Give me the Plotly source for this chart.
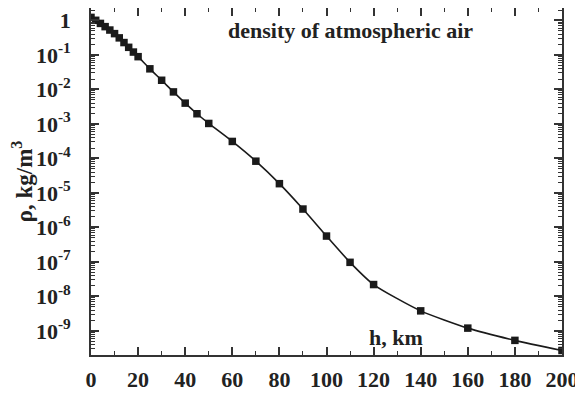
import plotly.graph_objects as go

h_km = [0, 2, 4, 6, 8, 10, 12, 14, 16, 18, 20, 25, 30, 35, 40, 45, 50, 60, 70, 80,
        90, 100, 110, 120, 140, 160, 180, 200]
rho = [1.225, 1.007, 0.819, 0.660, 0.526, 0.414, 0.312, 0.228, 0.166, 0.121, 0.0889,
       0.0395, 0.0184, 0.00846, 0.00400, 0.00197, 0.00103, 3.1e-4, 8.3e-5, 1.85e-5,
       3.4e-6, 5.6e-7, 9.7e-8, 2.2e-8, 3.8e-9, 1.2e-9, 5.3e-10, 2.7e-10]

x_ticks = [0, 20, 40, 60, 80, 100, 120, 140, 160, 180, 200]
x_minor = [10, 30, 50, 70, 90, 110, 130, 150, 170, 190]
y_tickvals = [1, 1e-1, 1e-2, 1e-3, 1e-4, 1e-5, 1e-6, 1e-7, 1e-8, 1e-9]
y_ticktext = ["1"] + ["10<sup>-%d</sup>" % k for k in range(1, 10)]
y_minor = [m * 10.0 ** e for e in range(-10, 1) for m in range(2, 10)]

FONT = "Liberation Serif"
AX = "#333333"
TK = "#333333"
TXT = "#222222"
y_range = [-9.70, 0.36]

fig = go.Figure()
fig.add_trace(go.Scatter(
    x=h_km, y=rho, mode="lines+markers",
    line=dict(color="#1a1a1a", width=1.6, shape="spline", smoothing=0.6),
    marker=dict(symbol="square", size=7.5, color="#1a1a1a"),
    showlegend=False,
))

# page body has an 8px default margin, so the figure is sized to fit the window
fig.update_layout(
    width=575, height=386,
    margin=dict(l=83, r=21, t=0, b=39, autoexpand=False),
    paper_bgcolor="white", plot_bgcolor="white",
    font=dict(family=FONT, color=TXT),
    xaxis=dict(
        range=[0, 200], tickmode="array", tickvals=x_ticks, ticks="inside", ticklen=8,
        tickwidth=1.6, tickcolor=TK, showline=True, linecolor=AX, linewidth=1.6,
        mirror="ticks", showgrid=False, zeroline=False, automargin=False,
        ticklabelstandoff=4,
        tickfont=dict(family=FONT, size=22, weight="bold", color=TXT),
        minor=dict(tickmode="array", tickvals=x_minor,
                   ticks="inside", ticklen=4, tickwidth=1.3, tickcolor=TK, showgrid=False),
    ),
    yaxis=dict(
        type="log", range=y_range, tickmode="array", tickvals=y_tickvals, ticktext=y_ticktext,
        ticks="inside", ticklen=8, tickwidth=1.6, tickcolor=TK,
        showline=True, linecolor=AX, linewidth=1.6, mirror="ticks",
        showgrid=False, zeroline=False, automargin=False, ticklabelstandoff=14,
        tickfont=dict(family=FONT, size=22, weight="bold", color=TXT),
        minor=dict(tickmode="array", tickvals=y_minor, ticks="inside", ticklen=4,
                   tickwidth=1.1, tickcolor=TK, showgrid=False),
        title=dict(text="ρ, kg/m<sup>3</sup>", standoff=2,
                   font=dict(family=FONT, size=23, weight="bold", color=TXT)),
    ),
    annotations=[
        dict(text="density of atmospheric air", x=0.552, y=0.934, xref="paper", yref="paper",
             xanchor="center", yanchor="middle", showarrow=False,
             font=dict(family=FONT, size=22, weight="bold", color=TXT)),
        dict(text="h, km", x=0.648, y=0.05, xref="paper", yref="paper",
             xanchor="center", yanchor="middle", showarrow=False,
             font=dict(family=FONT, size=22, weight="bold", color=TXT)),
    ],
)

fig.write_html("out.html")
